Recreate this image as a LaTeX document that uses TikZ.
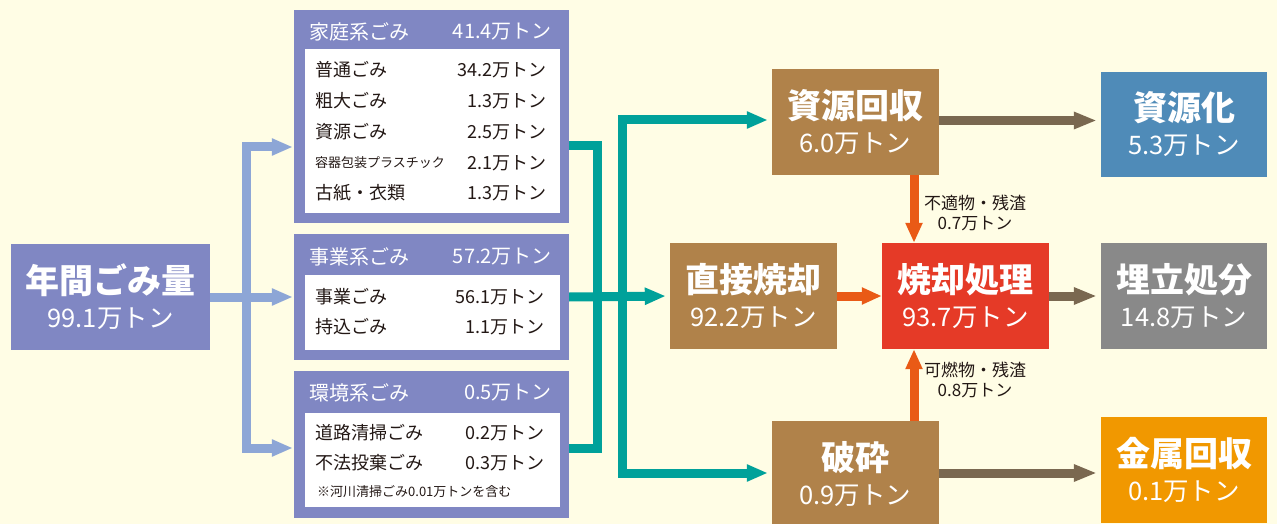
\documentclass[tikz,border=0pt]{standalone}
\usepackage{fontspec}
\setmainfont{Noto Sans CJK JP}
\usepackage{tikz}
\usetikzlibrary{arrows.meta}

\definecolor{bgcream}{HTML}{FFFDE5}
\definecolor{grouppurple}{HTML}{8087C3}
\definecolor{arrowblue}{HTML}{8DA6D6}
\definecolor{flowteal}{HTML}{00A19A}
\definecolor{procbrown}{HTML}{B0824A}
\definecolor{flowbrown}{HTML}{7A6850}
\definecolor{floworange}{HTML}{E95A16}
\definecolor{burnred}{HTML}{E53A27}
\definecolor{landgray}{HTML}{898989}
\definecolor{reuseblue}{HTML}{4F8BB8}
\definecolor{metalorange}{HTML}{F19800}
\definecolor{textdark}{HTML}{231815}

\newcommand{\boxlabel}[2]{{\fontsize{34}{34}\selectfont\bfseries #1}\\{#2}}

\tikzstyle{bigbox} = [rectangle, minimum width=167pt, minimum height=106pt, inner sep=0pt, text=white, align=center, font=\fontsize{25.5}{34}\selectfont]
\tikzstyle{groupbox} = [rectangle, fill=grouppurple, minimum width=275pt, inner sep=0pt]
\tikzstyle{panel} = [rectangle, fill=white, minimum width=255pt, inner sep=0pt]
\tikzstyle{head} = [text=white, inner sep=0pt, font=\fontsize{20}{24}\selectfont]
\tikzstyle{item} = [text=textdark, inner sep=0pt, font=\fontsize{18}{22}\selectfont]
\tikzstyle{note} = [text=textdark, inner sep=0pt, align=center, font=\fontsize{17}{20}\selectfont]
\tikzstyle{bluearrow} = [line width=9pt, draw=arrowblue, -{Triangle[length=21pt,width=16pt]}, shorten >=1pt]
\tikzstyle{tealline} = [line width=9pt, draw=flowteal]
\tikzstyle{tealarrow} = [line width=9pt, draw=flowteal, -{Triangle[length=21pt,width=16pt]}, shorten >=4pt]
\tikzstyle{orangearrow} = [line width=9pt, draw=floworange, -{Triangle[length=20pt,width=16pt]}]
\tikzstyle{brownarrow} = [line width=9pt, draw=flowbrown, -{Triangle[length=23pt,width=16pt]}, shorten >=4pt]

\begin{document}
\begin{tikzpicture}[x=1pt, y=-1pt]

  \useasboundingbox (0,0) rectangle (1277,524);
  \fill [bgcream] (0,0) rectangle (1277,524);

  \node (total) [bigbox, fill=grouppurple, minimum width=199pt] at (110.5,297) {\boxlabel{年間ごみ量}{99.1万トン}};

  % household
  \node (katei) [groupbox, minimum height=213pt] at (431.5,116.5) {};
  \node (kateipanel) [panel, minimum height=164pt] at (432.5,131) {};
  \node (kateihead) [head, anchor=west] at (309,32) {家庭系ごみ};
  \node (kateisum) [head, anchor=east] at (552,32) {41.4万トン};
  \node (k1) [item, anchor=west] at (315,70) {普通ごみ};
  \node (k1v) [item, anchor=east] at (547,70) {34.2万トン};
  \node (k2) [item, anchor=west] at (315,101) {粗大ごみ};
  \node (k2v) [item, anchor=east] at (547,101) {1.3万トン};
  \node (k3) [item, anchor=west] at (315,132) {資源ごみ};
  \node (k3v) [item, anchor=east] at (547,132) {2.5万トン};
  \node (k4) [item, anchor=west, font=\fontsize{13}{16}\selectfont] at (315,163) {容器包装プラスチック};
  \node (k4v) [item, anchor=east] at (547,163) {2.1万トン};
  \node (k5) [item, anchor=west] at (315,193) {古紙・衣類};
  \node (k5v) [item, anchor=east] at (547,193) {1.3万トン};

  % business
  \node (jigyo) [groupbox, minimum height=126pt] at (431.5,297) {};
  \node (jigyopanel) [panel, minimum height=75pt] at (432.5,312.5) {};
  \node (jigyohead) [head, anchor=west] at (309,257) {事業系ごみ};
  \node (jigyosum) [head, anchor=east] at (552,257) {57.2万トン};
  \node (j1) [item, anchor=west] at (315,297) {事業ごみ};
  \node (j1v) [item, anchor=east] at (545,297) {56.1万トン};
  \node (j2) [item, anchor=west] at (315,327) {持込ごみ};
  \node (j2v) [item, anchor=east] at (545,327) {1.1万トン};

  % environment
  \node (kankyo) [groupbox, minimum height=147pt] at (431.5,444.5) {};
  \node (kankyopanel) [panel, minimum height=94pt] at (432.5,460) {};
  \node (kankyohead) [head, anchor=west] at (309,393) {環境系ごみ};
  \node (kankyosum) [head, anchor=east] at (552,393) {0.5万トン};
  \node (e1) [item, anchor=west] at (315,433) {道路清掃ごみ};
  \node (e1v) [item, anchor=east] at (545,433) {0.2万トン};
  \node (e2) [item, anchor=west] at (315,463) {不法投棄ごみ};
  \node (e2v) [item, anchor=east] at (545,463) {0.3万トン};
  \node (e3) [item, anchor=west, font=\fontsize{13}{16}\selectfont] at (317,492) {※河川清掃ごみ0.01万トンを含む};

  % treatment
  \node (shigen) [bigbox, fill=procbrown] at (855.5,122) {\boxlabel{資源回収}{6.0万トン}};
  \node (chokusetsu) [bigbox, fill=procbrown] at (753.5,296) {\boxlabel{直接焼却}{92.2万トン}};
  \node (hasai) [bigbox, fill=procbrown] at (855.5,474) {\boxlabel{破砕}{0.9万トン}};
  \node (shokyaku) [bigbox, fill=burnred] at (965.5,296) {\boxlabel{焼却処理}{93.7万トン}};
  \node (shigenka) [bigbox, fill=reuseblue, minimum width=166pt, minimum height=105pt] at (1184,124.5) {\boxlabel{資源化}{5.3万トン}};
  \node (umetate) [bigbox, fill=landgray, minimum width=166pt] at (1184,296) {\boxlabel{埋立処分}{14.8万トン}};
  \node (kinzoku) [bigbox, fill=metalorange, minimum width=166pt] at (1184,470) {\boxlabel{金属回収}{0.1万トン}};

  \node (residue1) [note] at (975,213) {不適物・残渣\\0.7万トン};
  \node (residue2) [note] at (975,380) {可燃物・残渣\\0.8万トン};

  % collection arrows
  \coordinate (bsplit) at (246,297);
  \draw [bluearrow] (total.east) -- (jigyo.west);
  \draw [bluearrow] (bsplit) |- ([yshift=-30.5pt]katei.west);
  \draw [bluearrow] (bsplit) |- ([yshift=-3.5pt]kankyo.west);

  \coordinate (tmerge) at (597,297);
  \coordinate (tsplit) at (622,297);
  \draw [tealline] ([yshift=-29.5pt]katei.east) -| (tmerge);
  \draw [tealline] ([yshift=-3.5pt]kankyo.east) -| (tmerge);
  \draw [tealarrow] (jigyo.east) -- (chokusetsu.west);
  \draw [tealarrow] (tsplit) |- ([yshift=2pt]shigen.west);
  \draw [tealarrow] (tsplit) |- ([yshift=1pt]hasai.west);

  \coordinate (fdown) at ([xshift=-51.5pt]shokyaku.north);
  \coordinate (fup) at ([xshift=-51.5pt]shokyaku.south);
  \draw [orangearrow] (chokusetsu.east) -- (shokyaku.west);
  \draw [orangearrow] (shigen.south -| fdown) -- (fdown);
  \draw [orangearrow] (hasai.north -| fup) -- (fup);

  \draw [brownarrow] ([yshift=1.5pt]shigen.east) -- ([yshift=1.5pt]shigen.east -| shigenka.west);
  \draw [brownarrow] (shokyaku.east) -- (umetate.west);
  \draw [brownarrow] ([yshift=1pt]hasai.east) -- ([yshift=1pt]hasai.east -| kinzoku.west);

\end{tikzpicture}
\end{document}
